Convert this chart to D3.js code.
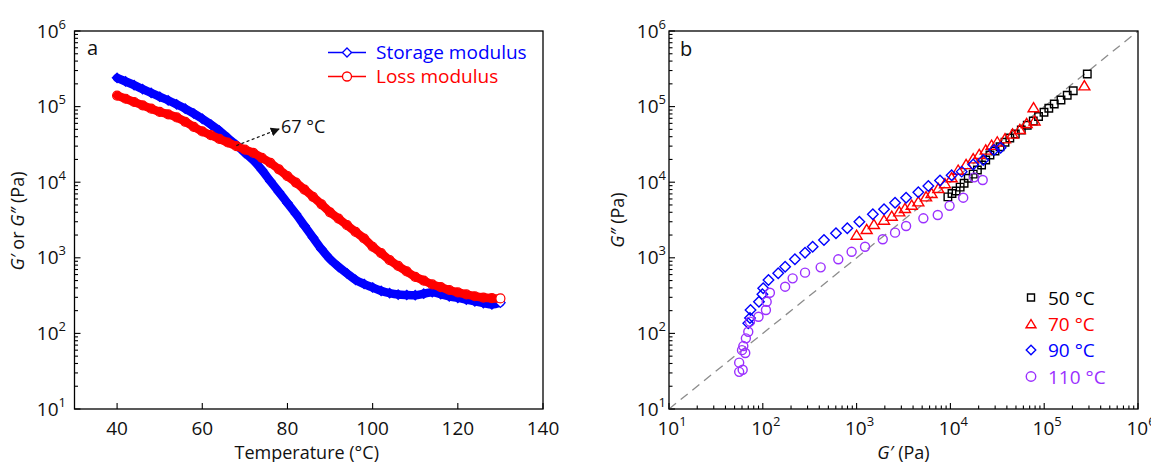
<!DOCTYPE html>
<html lang='en'>
  <head>
    <meta charset='utf-8'>
    <style type='text/css'>
      body {margin: 0; background-color: #fff;}
      svg {display: block; font-family: 'Open Sans', 'Noto Sans', sans-serif;}
      .frame {fill: none; stroke: #000; stroke-width: 1.3;}
      .tick line {stroke: #000; stroke-width: 1.1;}
    </style>
  </head>
  <body>
    <svg id='chart' width='1151' height='462'></svg>

    <script src='https://d3js.org/d3.v7.min.js'></script>
    <script type='text/javascript'>
        // ---- panel a : moduli vs temperature ----
        var tempC = [40, 42, 44, 46, 48, 50, 52, 54, 56, 58, 60, 62, 64, 66, 68, 70, 72, 74, 76, 78, 80,
                     82, 84, 86, 88, 90, 92, 94, 96, 98, 100, 102, 104, 106, 108, 110, 112, 114, 116, 118,
                     120, 122, 124, 126, 128, 130];
        var storageG = [2.40e5, 2.15e5, 1.92e5, 1.70e5, 1.52e5, 1.35e5, 1.21e5, 1.07e5, 9.4e4, 8.1e4, 6.9e4,
                        5.8e4, 4.8e4, 3.85e4, 3.1e4, 2.45e4, 1.95e4, 1.45e4, 1.03e4, 7.4e3, 5.3e3, 3.8e3,
                        2.65e3, 1.85e3, 1.3e3, 960, 760, 620, 510, 450, 405, 365, 340, 326, 322, 320, 335,
                        350, 330, 308, 295, 280, 265, 252, 242, 255];
        var lossG = [1.40e5, 1.27e5, 1.15e5, 1.04e5, 9.4e4, 8.5e4, 7.9e4, 7.2e4, 6.3e4, 5.4e4, 4.7e4, 4.2e4,
                     3.75e4, 3.35e4, 3.0e4, 2.7e4, 2.45e4, 2.1e4, 1.8e4, 1.48e4, 1.2e4, 9.9e3, 8.0e3, 6.4e3,
                     5.1e3, 4.0e3, 3.3e3, 2.7e3, 2.2e3, 1.8e3, 1.4e3, 1.15e3, 930, 780, 660, 560, 500, 445,
                     410, 375, 348, 328, 310, 298, 292, 290];
        var tempTicks = [40, 60, 80, 100, 120, 140];
        var decadeExps = [1, 2, 3, 4, 5, 6];

        // ---- panel b : G'' vs G' at four temperatures ----
        var isoLabels = ['50 \u00B0C', '70 \u00B0C', '90 \u00B0C', '110 \u00B0C'];
        var g50Storage = [9.4e3, 1.04e4, 1.15e4, 1.27e4, 1.4e4, 1.55e4, 1.75e4, 1.94e4, 2.15e4, 2.38e4, 2.64e4,
                          2.99e4, 3.38e4, 3.82e4, 4.3e4, 4.92e4, 5.7e4, 6.6e4, 7.65e4, 8.7e4, 9.95e4, 1.12e5,
                          1.28e5, 1.51e5, 1.76e5, 2.04e5, 2.88e5];
        var g50Loss = [6.4e3, 7.1e3, 7.65e3, 8.6e3, 9.7e3, 1.13e4, 1.28e4, 1.45e4, 1.69e4, 1.97e4, 2.29e4,
                       2.59e4, 2.95e4, 3.37e4, 3.85e4, 4.34e4, 4.9e4, 5.66e4, 6.46e4, 7.4e4, 8.4e4, 9.5e4,
                       1.08e5, 1.22e5, 1.41e5, 1.62e5, 2.7e5];
        var g70Storage = [1.0e3, 1.28e3, 1.53e3, 1.96e3, 2.37e3, 2.85e3, 3.28e3, 3.87e3, 4.55e3, 5.5e3, 6.3e3,
                          7.43e3, 8.75e3, 1.03e4, 1.21e4, 1.47e4, 1.75e4, 2.03e4, 2.38e4, 2.75e4, 3.16e4,
                          3.82e4, 4.6e4, 5.5e4, 6.5e4, 7.9e4, 7.7e4, 2.68e5];
        var g70Loss = [2.0e3, 2.38e3, 2.77e3, 3.16e3, 3.57e3, 4.07e3, 4.52e3, 4.99e3, 5.52e3, 6.43e3, 7.12e3,
                       8.3e3, 9.6e3, 1.15e4, 1.45e4, 1.72e4, 2.05e4, 2.34e4, 2.67e4, 3.1e4, 3.43e4,
                       3.76e4, 4.35e4, 5.0e4, 6.0e4, 6.5e4, 9.7e4, 1.89e5];
        var g90Storage = [70, 73, 74, 91, 99, 101, 115, 146, 173, 220, 282, 340, 449, 603, 796, 1.07e3, 1.49e3,
                          1.96e3, 2.57e3, 3.37e3, 4.55e3, 5.82e3, 7.75e3, 1.03e4, 1.32e4, 1.75e4, 2.24e4,
                          2.92e4, 3.43e4];
        var g90Loss = [136, 160, 204, 262, 330, 395, 508, 624, 763, 955, 1.17e3, 1.4e3, 1.72e3, 2.11e3, 2.46e3,
                       3.0e3, 3.76e3, 4.38e3, 5.36e3, 6.24e3, 7.35e3, 8.9e3, 1.05e4, 1.24e4, 1.38e4, 1.72e4,
                       1.97e4, 2.67e4, 2.86e4];
        var g110Storage = [56, 61, 56, 60, 65, 62, 66, 70, 73, 90, 108, 110, 119, 173, 208, 282, 414, 638, 885,
                           1.23e3, 1.9e3, 2.57e3, 3.37e3, 5.15e3, 7.33e3, 9.8e3, 1.37e4, 1.79e4, 2.21e4];
        var g110Loss = [31, 33, 41, 60, 55, 68, 86, 105, 143, 166, 204, 262, 345, 415, 535, 636, 748, 955, 1.2e3,
                        1.4e3, 1.76e3, 2.15e3, 2.63e3, 3.33e3, 3.68e3, 4.87e3, 6.24e3, 1.16e4, 1.07e4];

        var svg = d3.select('#chart');

        // marker outlines centred on 0,0
        function shape(type, s) {
            var h = s / 2;
            if (type === 'square') return 'M' + (-h) + ',' + (-h) + 'h' + s + 'v' + s + 'h' + (-s) + 'Z';
            if (type === 'diamond') return 'M0,' + (-h) + 'L' + h + ',0L0,' + h + 'L' + (-h) + ',0Z';
            if (type === 'triangle') return 'M0,' + (-h * 0.95) + 'L' + (h * 1.05) + ',' + (h * 0.8) + 'L' + (-h * 1.05) + ',' + (h * 0.8) + 'Z';
            return d3.arc()({innerRadius: 0, outerRadius: h, startAngle: 0, endAngle: 2 * Math.PI});
        }

        // "10^n" label
        function powLabel(g, x, y, n, anchor) {
            var t = g.append('text').attr('x', x).attr('y', y)
                .attr('text-anchor', anchor).style('font-size', '19px').attr('fill', '#111');
            t.append('tspan').text('10');
            t.append('tspan').attr('dy', -9).style('font-size', '13px').text(n);
        }

        function logTicks(g, scale, orient, len0, len1) {
            var ticks = scale.ticks();
            ticks.forEach(function(v) {
                var major = Math.abs(Math.log10(v) - Math.round(Math.log10(v))) < 1e-9;
                var L = major ? len0 : len1;
                var p = scale(v);
                if (orient === 'left')
                    g.append('line').attr('x1', 0).attr('x2', L).attr('y1', p).attr('y2', p);
                else
                    g.append('line').attr('x1', p).attr('x2', p).attr('y1', 0).attr('y2', -L);
            });
        }

        /************ panel a ************/
        var A = {left: 74.5, right: 543, top: 31, bottom: 409};
        var xa = d3.scaleLinear().domain([30, 140]).range([A.left, A.right]);
        var ya = d3.scaleLog().domain([10, 1e6]).range([A.bottom, A.top]);

        var ga = svg.append('g');

        // y ticks (left, inward)
        var gya = ga.append('g').attr('class', 'tick').attr('transform', 'translate(' + A.left + ',0)');
        logTicks(gya, ya, 'left', 6, 3.5);
        decadeExps.forEach(function(n) { powLabel(ga, 66, ya(Math.pow(10, n)) + 6.5, n, 'end'); });

        // x ticks (bottom, inward)
        var gxa = ga.append('g').attr('class', 'tick').attr('transform', 'translate(0,' + A.bottom + ')');
        tempTicks.forEach(function(v) {
            gxa.append('line').attr('x1', xa(v)).attr('x2', xa(v)).attr('y1', 0).attr('y2', -6);
            ga.append('text').attr('x', xa(v)).attr('y', 435).attr('text-anchor', 'middle')
                .style('font-size', '19px').attr('fill', '#111').text(v);
        });

        var seriesA = [
            {vals: storageG, color: '#0000ff', type: 'diamond', size: 9.5},
            {vals: lossG, color: '#ff0000', type: 'circle', size: 9}
        ];
        var lineA = d3.line().curve(d3.curveMonotoneX);
        seriesA.forEach(function(s) {
            var pts = tempC.map(function(t, i) { return [xa(t), ya(s.vals[i])]; });
            ga.append('path').attr('d', lineA(pts)).attr('fill', 'none')
                .attr('stroke', s.color).attr('stroke-width', 8.5).attr('stroke-linecap', 'round');
            ga.selectAll(null).data(pts).enter().append('path')
                .attr('transform', function(p) { return 'translate(' + p[0] + ',' + p[1] + ')'; })
                .attr('d', shape(s.type, s.size))
                .attr('fill', function(p, i) { return i === pts.length - 1 ? '#fff' : 'none'; })
                .attr('stroke', s.color).attr('stroke-width', 1.2);
        });

        // crossover annotation
        var defs = svg.append('defs');
        defs.append('marker').attr('id', 'arrowHead').attr('viewBox', '0 0 10 10')
            .attr('refX', 9).attr('refY', 5).attr('markerWidth', 9).attr('markerHeight', 9)
            .attr('markerUnits', 'userSpaceOnUse').attr('orient', 'auto')
          .append('path').attr('d', 'M0,0L10,5L0,10Z').attr('fill', '#111');
        ga.append('line').attr('x1', xa(68)).attr('y1', ya(3.05e4)).attr('x2', 279).attr('y2', 129)
            .attr('stroke', '#111').attr('stroke-width', 1.2).attr('stroke-dasharray', '3,2.5')
            .attr('marker-end', 'url(#arrowHead)');
        ga.append('text').attr('x', 281).attr('y', 133).style('font-size', '18px').attr('fill', '#111')
            .text('67 \u00B0C');

        ga.append('rect').attr('class', 'frame').attr('x', A.left).attr('y', A.top)
            .attr('width', A.right - A.left).attr('height', A.bottom - A.top);
        ga.append('text').attr('x', 87).attr('y', 55).style('font-size', '20px').attr('fill', '#111').text('a');

        // legend a
        var legA = [
            {label: 'Storage modulus', color: '#0000ff', type: 'diamond', y: 52.5},
            {label: 'Loss modulus', color: '#ff0000', type: 'circle', y: 76.5}
        ];
        legA.forEach(function(d) {
            ga.append('line').attr('x1', 328).attr('x2', 366).attr('y1', d.y).attr('y2', d.y)
                .attr('stroke', d.color).attr('stroke-width', 1.3);
            ga.append('path').attr('transform', 'translate(347,' + d.y + ')').attr('d', shape(d.type, 9))
                .attr('fill', '#fff').attr('stroke', d.color).attr('stroke-width', 1.3);
            ga.append('text').attr('x', 376).attr('y', d.y + 6.5).style('font-size', '19px')
                .attr('fill', d.color).text(d.label);
        });

        // axis titles a
        ga.append('text').attr('x', (A.left + A.right) / 2 - 2).attr('y', 459).attr('text-anchor', 'middle')
            .style('font-size', '18px').attr('fill', '#111').text('Temperature (\u00B0C)');
        var yta = ga.append('text').attr('transform', 'translate(24,221) rotate(-90)')
            .attr('text-anchor', 'middle').style('font-size', '18px').attr('fill', '#111');
        yta.append('tspan').style('font-style', 'italic').text('G\u2032');
        yta.append('tspan').text(' or ');
        yta.append('tspan').style('font-style', 'italic').text('G\u2033');
        yta.append('tspan').text(' (Pa)');

        /************ panel b ************/
        var B = {left: 669, right: 1138, top: 31, bottom: 409};
        var xb = d3.scaleLog().domain([10, 1e6]).range([B.left, B.right]);
        var yb = d3.scaleLog().domain([10, 1e6]).range([B.bottom, B.top]);

        var gb = svg.append('g');
        var gyb = gb.append('g').attr('class', 'tick').attr('transform', 'translate(' + B.left + ',0)');
        logTicks(gyb, yb, 'left', 6, 3.5);
        var gxb = gb.append('g').attr('class', 'tick').attr('transform', 'translate(0,' + B.bottom + ')');
        logTicks(gxb, xb, 'bottom', 6, 3.5);
        decadeExps.forEach(function(n) {
            powLabel(gb, 666, yb(Math.pow(10, n)) + 6.5, n, 'end');
            powLabel(gb, xb(Math.pow(10, n)) + 3, 435, n, 'middle');
        });

        // G'' = G' reference
        gb.append('line').attr('x1', xb(10)).attr('y1', yb(10)).attr('x2', xb(1e6)).attr('y2', yb(1e6))
            .attr('stroke', '#8c8c8c').attr('stroke-width', 1.3).attr('stroke-dasharray', '9,6');

        var seriesB = [
            {gp: g50Storage, gpp: g50Loss, color: '#000000', type: 'square', size: 7.5},
            {gp: g70Storage, gpp: g70Loss, color: '#ff0000', type: 'triangle', size: 10.5},
            {gp: g90Storage, gpp: g90Loss, color: '#0000ff', type: 'diamond', size: 10.5},
            {gp: g110Storage, gpp: g110Loss, color: '#9b30ff', type: 'circle', size: 9}
        ];
        seriesB.forEach(function(s) {
            gb.selectAll(null).data(s.gp).enter().append('path')
                .attr('transform', function(v, i) { return 'translate(' + xb(v) + ',' + yb(s.gpp[i]) + ')'; })
                .attr('d', shape(s.type, s.size))
                .attr('fill', 'none').attr('stroke', s.color).attr('stroke-width', 1.4);
        });

        gb.append('rect').attr('class', 'frame').attr('x', B.left).attr('y', B.top)
            .attr('width', B.right - B.left).attr('height', B.bottom - B.top);
        gb.append('text').attr('x', 680).attr('y', 56).style('font-size', '20px').attr('fill', '#111').text('b');

        // legend b
        var legY = [297.5, 324, 350, 376.5];
        seriesB.forEach(function(s, i) {
            gb.append('path').attr('transform', 'translate(1031,' + legY[i] + ')')
                .attr('d', shape(s.type, s.type === 'square' ? 7 : 9.5))
                .attr('fill', 'none').attr('stroke', s.color).attr('stroke-width', 1.4);
            gb.append('text').attr('x', 1048).attr('y', legY[i] + 7).style('font-size', '19px')
                .attr('fill', s.color).text(isoLabels[i]);
        });

        // axis titles b
        var xtb = gb.append('text').attr('x', (B.left + B.right) / 2).attr('y', 459)
            .attr('text-anchor', 'middle').style('font-size', '18px').attr('fill', '#111');
        xtb.append('tspan').style('font-style', 'italic').text('G\u2032');
        xtb.append('tspan').text(' (Pa)');
        var ytb = gb.append('text').attr('transform', 'translate(624,220) rotate(-90)')
            .attr('text-anchor', 'middle').style('font-size', '18px').attr('fill', '#111');
        ytb.append('tspan').style('font-style', 'italic').text('G\u2033');
        ytb.append('tspan').text(' (Pa)');
    </script>
  </body>
</html>
